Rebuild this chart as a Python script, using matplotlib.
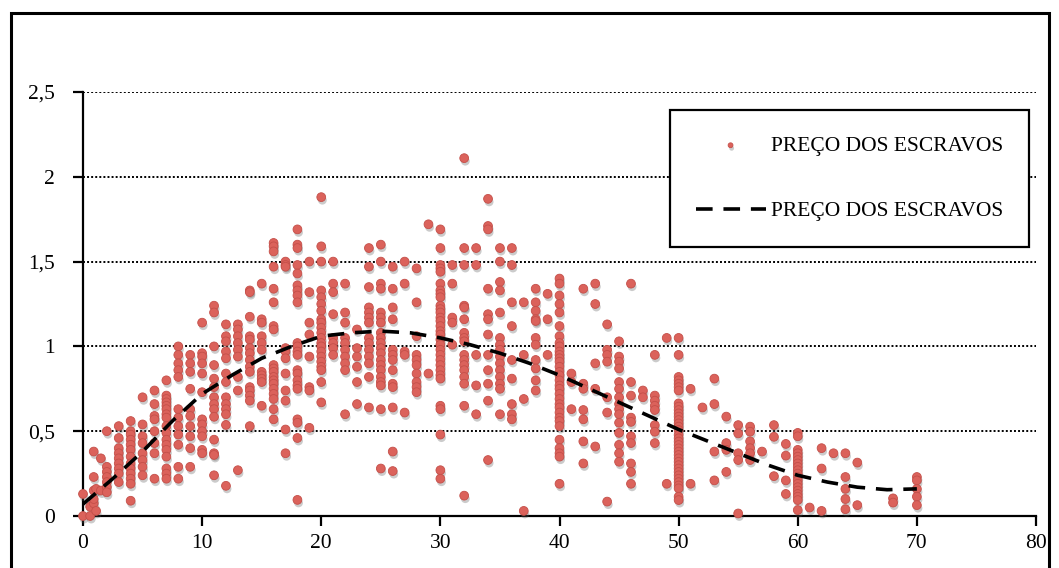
import matplotlib
matplotlib.use('Agg')
import numpy as np
from matplotlib import pyplot as plt
from matplotlib import patheffects as pe
from matplotlib.patches import Rectangle

idade_preco = [
    (0, [0.0, 0.13]),
    (0.6, [0.055, 0.0]),
    (0.9, [0.075, 0.10, 0.15, 0.23, 0.38]),
    (1.1, [0.16, 0.03]),
    (1.5, [0.34, 0.15]),
    (2, [0.50, 0.29, 0.26, 0.23, 0.20, 0.17, 0.14]),
    (3, [0.53, 0.46, 0.40, 0.37, 0.34, 0.31, 0.28, 0.25, 0.20]),
    (4, [0.56, 0.50, 0.48, 0.45, 0.42, 0.39, 0.35, 0.31, 0.28, 0.25, 0.22, 0.19, 0.09]),
    (5, [0.70, 0.54, 0.47, 0.43, 0.37, 0.33, 0.29, 0.24]),
    (6, [0.74, 0.66, 0.59, 0.57, 0.50, 0.43, 0.37, 0.22]),
    (7, [0.80, 0.71, 0.69, 0.67, 0.65, 0.63, 0.60, 0.58, 0.53, 0.49, 0.45, 0.42, 0.39, 0.35, 0.28, 0.25, 0.22]),
    (8, [1.00, 0.95, 0.90, 0.86, 0.82, 0.63, 0.58, 0.53, 0.48, 0.42, 0.29, 0.22]),
    (9, [0.95, 0.90, 0.85, 0.75, 0.63, 0.59, 0.53, 0.47, 0.40, 0.29]),
    (10, [1.14, 0.96, 0.94, 0.90, 0.84, 0.73, 0.57, 0.54, 0.50, 0.47, 0.39, 0.37]),
    (11, [1.24, 1.20, 1.00, 0.89, 0.81, 0.76, 0.70, 0.66, 0.63, 0.585, 0.45, 0.37, 0.36, 0.24]),
    (12, [1.13, 1.06, 1.03, 0.97, 0.93, 0.84, 0.79, 0.70, 0.66, 0.63, 0.60, 0.537, 0.178]),
    (13, [1.13, 1.10, 1.06, 1.02, 0.98, 0.94, 0.82, 0.74, 0.27]),
    (14, [1.33, 1.32, 1.175, 1.06, 1.04, 0.99, 0.96, 0.92, 0.88, 0.85, 0.76, 0.74, 0.71, 0.68, 0.53]),
    (15, [1.37, 1.16, 1.14, 1.06, 1.02, 0.98, 0.85, 0.83, 0.81, 0.79, 0.65]),
    (16, [1.61, 1.59, 1.56, 1.47, 1.34, 1.26, 1.12, 1.10, 0.89, 0.87, 0.85, 0.82, 0.80, 0.78, 0.75, 0.72, 0.69, 0.63, 0.57]),
    (17, [1.50, 1.48, 1.47, 0.99, 0.97, 0.93, 0.84, 0.74, 0.68, 0.51, 0.37]),
    (18, [1.69, 1.60, 1.58, 1.48, 1.43, 1.36, 1.33, 1.30, 1.26, 1.02, 1.00, 0.97, 0.95, 0.86, 0.84, 0.80, 0.77, 0.75, 0.57, 0.55, 0.46, 0.095]),
    (19, [1.50, 1.32, 1.14, 1.07, 0.94, 0.76, 0.74, 0.52]),
    (20, [1.88, 1.59, 1.50, 1.33, 1.29, 1.25, 1.21, 1.16, 1.14, 1.11, 1.08, 1.05, 1.02, 1.00, 0.97, 0.94, 0.91, 0.88, 0.86, 0.79, 0.67]),
    (21, [1.50, 1.37, 1.32, 1.19, 1.05, 1.02, 0.99, 0.95]),
    (22, [1.37, 1.20, 1.14, 1.05, 1.02, 0.98, 0.94, 0.90, 0.86, 0.60]),
    (23, [1.10, 0.99, 0.94, 0.88, 0.79, 0.66]),
    (24, [1.58, 1.47, 1.35, 1.23, 1.20, 1.17, 1.14, 1.05, 1.02, 0.98, 0.94, 0.90, 0.82, 0.64]),
    (25, [1.60, 1.50, 1.37, 1.34, 1.20, 1.17, 1.14, 1.08, 1.05, 1.02, 0.99, 0.96, 0.92, 0.89, 0.86, 0.82, 0.79, 0.77, 0.63, 0.28]),
    (26, [1.47, 1.34, 1.23, 1.16, 0.98, 0.95, 0.92, 0.86, 0.78, 0.76, 0.64, 0.38, 0.265]),
    (27, [1.50, 1.37, 0.97, 0.95, 0.61]),
    (28, [1.46, 1.26, 1.06, 0.95, 0.92, 0.89, 0.84, 0.79, 0.76, 0.73]),
    (29, [1.72, 0.84]),
    (30, [1.69, 1.58, 1.48, 1.46, 1.44, 1.37, 1.33, 1.31, 1.29, 1.24, 1.22, 1.20, 1.17, 1.15, 1.12, 1.09,
          1.07, 1.04, 1.01, 0.98, 0.95, 0.92, 0.89, 0.86, 0.83, 0.81, 0.65, 0.63, 0.48, 0.27, 0.22]),
    (31, [1.48, 1.37, 1.17, 1.14, 1.01]),
    (32, [2.11, 1.58, 1.48, 1.24, 1.23, 1.16, 1.08, 1.05, 1.03, 0.95, 0.92, 0.89, 0.86, 0.82, 0.78, 0.65, 0.12]),
    (33, [1.58, 1.48, 0.95, 0.77, 0.60]),
    (34, [1.87, 1.71, 1.69, 1.34, 1.19, 1.16, 1.07, 0.95, 0.86, 0.78, 0.68, 0.33]),
    (35, [1.58, 1.50, 1.38, 1.33, 1.20, 1.05, 1.01, 0.98, 0.94, 0.90, 0.86, 0.82, 0.78, 0.75, 0.60]),
    (36, [1.58, 1.48, 1.26, 1.12, 0.92, 0.81, 0.66, 0.60, 0.57]),
    (37, [1.26, 0.95, 0.69, 0.03]),
    (38, [1.34, 1.26, 1.21, 1.16, 1.15, 1.05, 1.01, 0.92, 0.87, 0.80, 0.74]),
    (39, [1.31, 1.16, 0.95]),
    (40, [1.40, 1.37, 1.30, 1.25, 1.20, 1.12, 1.06, 1.02, 1.00, 0.97, 0.95, 0.93, 0.91, 0.88, 0.85, 0.83,
          0.80, 0.77, 0.75, 0.72, 0.69, 0.66, 0.64, 0.61, 0.58, 0.56, 0.53, 0.45, 0.40, 0.37, 0.35, 0.19]),
    (41, [0.84, 0.79, 0.63]),
    (42, [1.34, 0.78, 0.75, 0.625, 0.57, 0.44, 0.31]),
    (43, [1.37, 1.25, 0.90, 0.75, 0.41]),
    (44, [1.13, 0.98, 0.95, 0.91, 0.70, 0.61, 0.085]),
    (45, [1.03, 0.94, 0.91, 0.87, 0.79, 0.75, 0.70, 0.66, 0.63, 0.60, 0.55, 0.49, 0.42, 0.37, 0.32]),
    (46, [1.37, 0.79, 0.71, 0.58, 0.555, 0.47, 0.43, 0.31, 0.26, 0.19]),
    (47, [0.74, 0.70]),
    (48, [0.95, 0.71, 0.68, 0.65, 0.625, 0.536, 0.497, 0.43]),
    (49, [1.05, 0.19]),
    (50, [1.05, 0.95, 0.82, 0.80, 0.78, 0.76, 0.74, 0.664, 0.645, 0.625, 0.605, 0.586, 0.566, 0.546, 0.527, 0.507,
          0.478, 0.458, 0.439, 0.419, 0.399, 0.38, 0.36, 0.34, 0.32, 0.30, 0.28, 0.26, 0.24, 0.22, 0.20, 0.18,
          0.163, 0.114, 0.094]),
    (51, [0.75, 0.19]),
    (52, [0.64]),
    (53, [0.81, 0.66, 0.38, 0.21]),
    (54, [0.586, 0.43, 0.39, 0.26]),
    (55, [0.536, 0.487, 0.37, 0.33, 0.015]),
    (56, [0.527, 0.497, 0.44, 0.40, 0.37, 0.33]),
    (57, [0.38]),
    (58, [0.536, 0.467, 0.235]),
    (59, [0.425, 0.356, 0.21, 0.13]),
    (60, [0.49, 0.47, 0.39, 0.37, 0.35, 0.33, 0.31, 0.29, 0.27, 0.25, 0.23, 0.21, 0.19, 0.17, 0.15, 0.13,
          0.114, 0.094, 0.035]),
    (61, [0.05]),
    (62, [0.40, 0.28, 0.03]),
    (63, [0.37]),
    (64, [0.37, 0.23, 0.16, 0.10, 0.04]),
    (65, [0.315, 0.064]),
    (68, [0.104, 0.079]),
    (70, [0.23, 0.21, 0.16, 0.114, 0.064]),
]

# linha de tendencia (tracejada)
tend_idade = [0, 2.5, 5, 7.5, 10, 12.5, 15, 17.5, 20, 22.5, 25, 27.5, 30, 32.5, 35,
              37.5, 40, 42.5, 45, 47.5, 50, 52.5, 55, 57.5, 60, 62.5, 65, 67.5, 70]
tend_preco = [0.07, 0.22, 0.38, 0.56, 0.72, 0.83, 0.93, 1.00, 1.06, 1.08, 1.09, 1.08, 1.05, 1.01, 0.96,
              0.90, 0.83, 0.75, 0.67, 0.59, 0.51, 0.44, 0.37, 0.30, 0.24, 0.20, 0.17, 0.155, 0.16]

yticks = [0, 0.5, 1, 1.5, 2, 2.5]
ylabels = ['0', '0,5', '1', '1,5', '2', '2,5']
xticks = [0, 10, 20, 30, 40, 50, 60, 70, 80]

x = []
y = []
for a, vals in idade_preco:
    for v in vals:
        x.append(a)
        y.append(v)

plt.rcParams['font.family'] = ['Liberation Serif', 'DejaVu Serif']
fig = plt.figure(figsize=(10.59, 5.68), dpi=100)
ax = fig.add_axes([83/1059, 1-516/568, 953/1059, 424/568])

for t in yticks[1:]:
    ax.axhline(t, color='black', lw=1.4, linestyle=(0, (1, 1.1)), zorder=1)

sc = ax.scatter(x, y, s=40, color='#db625b', edgecolor='#c44f49', linewidth=0.6,
                clip_on=False, zorder=3, label='PREÇO DOS ESCRAVOS',
                path_effects=[pe.SimplePatchShadow(offset=(0.8, -2.2), shadow_rgbFace='#555555', alpha=0.3),
                              pe.Normal()])
ln, = ax.plot(tend_idade, tend_preco, color='black', lw=2.6, dashes=(4.6, 3.0),
              zorder=4, label='PREÇO DOS ESCRAVOS')

ax.set_xlim(0, 80)
ax.set_ylim(0, 2.5)
ax.set_xticks(xticks)
ax.set_yticks(yticks)
ax.set_yticklabels(ylabels)
for s in ['top', 'right']:
    ax.spines[s].set_visible(False)
for s in ['left', 'bottom']:
    ax.spines[s].set_linewidth(1.6)
ax.tick_params(axis='both', direction='out', length=7, width=1.6, labelsize=15.5)
ax.tick_params(axis='y', pad=13)
ax.tick_params(axis='x', pad=6)

leg = ax.legend(handles=[sc, ln], loc='upper right', bbox_to_anchor=((1029-83)/953, (516-110)/424),
                borderaxespad=0, fancybox=False, framealpha=1, edgecolor='black', fontsize=15.5,
                handlelength=3.25, handletextpad=0.25, borderpad=1.2, labelspacing=2.1,
                markerscale=0.55)
leg.get_frame().set_linewidth(1.6)

fig.patches.append(Rectangle((11/1059, -0.1), 1038/1059, 1.1-13/568, transform=fig.transFigure,
                             fill=False, edgecolor='black', lw=2.2))

fig.savefig('out.png', dpi=100)
